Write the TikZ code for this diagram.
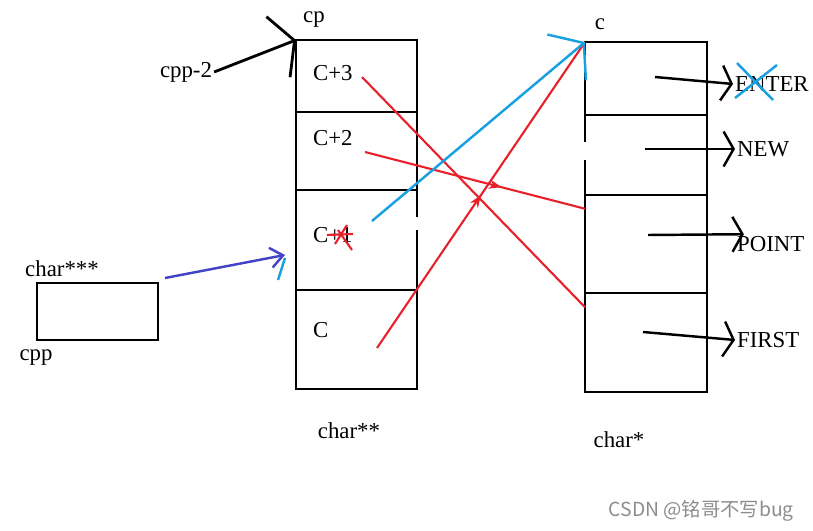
\documentclass[tikz,border=0pt]{standalone}
\usepackage{fontspec}
\setmainfont{Liberation Serif}
\newfontfamily\cjkfont{Noto Sans CJK SC}
\usetikzlibrary{arrows.meta, positioning, decorations.markings}
\definecolor{inkRed}{HTML}{E8202A}
\definecolor{inkCyan}{HTML}{18A0E0}
\definecolor{inkBlue}{HTML}{4343C6}
\definecolor{markGray}{HTML}{8C8C8C}

\begin{document}
\begin{tikzpicture}[
    x=0.02cm, y=-0.02cm,
    node distance=0pt,
    cell/.style={draw, line width=1.6pt, outer sep=0pt, minimum width=2.42cm},
    word/.style={font=\fontsize{13}{15}\selectfont, inner sep=1pt},
    ptr/.style={line width=1.4pt, -{Straight Barb[length=2mm, width=7mm]}},
    bigptr/.style={line width=1.6pt, -{Straight Barb[length=3.5mm, width=13mm]}},
    cptr/.style={inkCyan, line width=1.4pt, -{Straight Barb[length=4.5mm, width=12mm]}},
    bptr/.style={inkBlue, line width=1.4pt, -{Straight Barb[length=2.5mm, width=4mm]}},
    redline/.style={inkRed, line width=1.2pt},
    midarrow/.style={postaction={decorate}, decoration={markings,
                     mark=at position #1 with {\arrow{Stealth[length=2.5mm]}}}},
]
\useasboundingbox (0,0) rectangle (813,530);

% char** column
\node[cell, minimum height=1.44cm] (l3) at (356.5,76) {};
\node[cell, minimum height=1.56cm, below=of l3] (l2) {};
\node[cell, minimum height=2cm, below=of l2] (l1) {};
\node[cell, minimum height=1.98cm, below=of l1] (l0) {};

% char* column
\node[cell, minimum width=2.44cm, minimum height=1.46cm] (r3) at (646,78.5) {};
\node[cell, minimum width=2.44cm, minimum height=1.6cm, below=of r3] (r2) {};
\node[cell, minimum width=2.44cm, minimum height=1.96cm, below=of r2] (r1) {};
\node[cell, minimum width=2.44cm, minimum height=1.98cm, below=of r1] (r0) {};
\fill[white] (412,217) rectangle (422,230);
\fill[white] (580,142) rectangle (590,160);

% char*** box
\node[cell, minimum height=1.14cm] (cppbox) at (97.5,311.5) {};

\node[word] (cp) at (314,20) {cp};
\node[word] (c) at (600,24) {c};
\node[word] (tri) at (62,269) {char***};
\node[word] (cpp) at (36,358) {cpp};
\node[word] (cppm) at (186,72) {cpp-2};
\node[word] (dbl) at (349,431) {char**};
\node[word] (sgl) at (619,440) {char*};

\node[word, anchor=west] (t3) at (311,73) {C+3};
\node[word, anchor=west] (t2) at (311,138) {C+2};
\node[word, anchor=west] (t1) at (311,235) {C+1};
\node[word, anchor=west] (t0) at (311,330) {C};

\node[word, anchor=west] (enter) at (733,84) {ENTER};
\node[word, anchor=west] (new) at (735,149) {NEW};
\node[word, anchor=west] (point) at (735,244) {POINT};
\node[word, anchor=west] (first) at (735,340) {FIRST};

\node[font=\cjkfont\fontsize{11}{13}\selectfont, text=markGray, anchor=east] (mark)
    at (800,511) {CSDN @铭哥不写bug};

\coordinate (s3) at (362,77);
\coordinate (s2) at (365,152);
\coordinate (s1) at (372,221);
\coordinate (s0) at (377,348);
\coordinate (e3) at (655,77);
\coordinate (e2) at (645,149);
\coordinate (e1) at (648,235);
\coordinate (e0) at (643,332);

\draw[bigptr] (cppm.east) -- (l3.north west);
\draw[bptr] ([xshift=0.14cm, yshift=0.1cm]cppbox.north east)
    -- ([xshift=-0.22cm, yshift=-0.3cm]l1.west);
\draw[inkCyan, line width=1.4pt] ([xshift=-0.22cm, yshift=-0.36cm]l1.west) -- ++(-7,22);

\draw[redline] (s3) -- (r0.150);
\draw[redline, midarrow=0.62] (s2) -- (r1.150);
\draw[redline, midarrow=0.5] (s0) -- (r3.north west);
\draw[cptr] (s1) -- (r3.north west);

% scribbled-out 1
\draw[redline] (327,235) -- (353,234) (335,244) -- (347,225) (338,230) -- (352,250);

\draw[ptr] (e3) -- (enter.west);
\draw[ptr] (e2) -- (new.west);
\draw[ptr] (e1) -- (point.160);
\draw[ptr] (e0) -- (first.west);

% crossed-out ENTER
\draw[inkCyan, line width=1.4pt] (737,63) -- (773,100) (777,65) -- (735,98);
\end{tikzpicture}
\end{document}
